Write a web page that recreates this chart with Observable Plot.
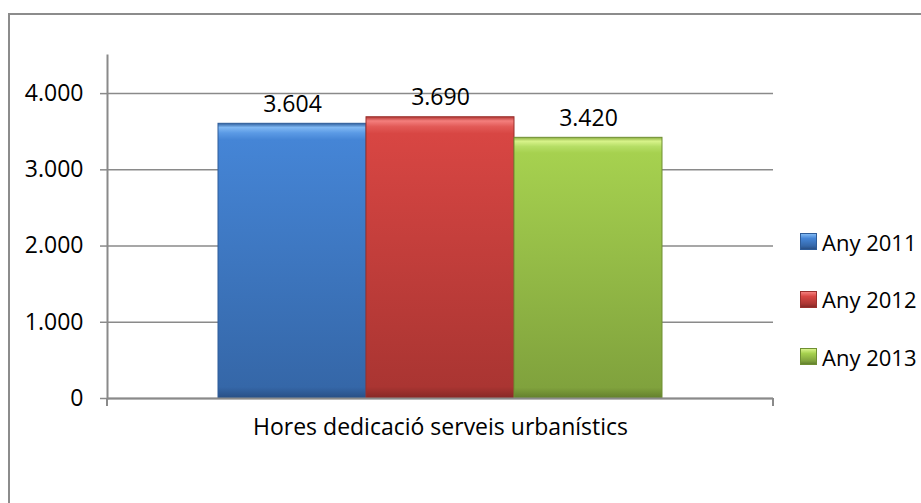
<!DOCTYPE html>
<html>
<head>
<meta charset="utf-8">
<script src="https://cdn.jsdelivr.net/npm/d3@7"></script>
<script src="https://cdn.jsdelivr.net/npm/@observablehq/plot@0.6"></script>
<style>
  html, body { margin: 0; padding: 0; background: #fff; }
  #wrap { position: relative; width: 921px; height: 503px; overflow: hidden; font-family: "Open Sans", sans-serif; }
  #border { position: absolute; left: 8px; top: 13px; width: 1000px; height: 1000px; border: 2px solid #8c8c8c; box-sizing: border-box; }
  #chart { position: absolute; left: 0; top: 0; }
  #legend { position: absolute; left: 800px; top: 233px; }
  .item { position: absolute; left: 0; display: flex; align-items: center; height: 17px; white-space: nowrap; font-size: 22px; color: #000; }
  .sw { width: 17px; height: 17px; margin-right: 5px; box-sizing: border-box; flex: none; }
</style>
</head>
<body>
<div id="wrap">
  <div id="border"></div>
  <div id="chart"></div>
  <div id="legend"></div>
</div>
<script>
const category = "Hores dedicació serveis urbanístics";
const series = ["Any 2011", "Any 2012", "Any 2013"];
const values = [3604, 3690, 3420];
const yTicks = [0, 1000, 2000, 3000, 4000];

const gradIds = ["gBlue", "gRed", "gGreen"];
const gradStops = [
  [["0%", "#2f5f9e"], ["1.5%", "#80b8f3"], ["3.5%", "#5b9ae5"], ["6%", "#4585d6"], ["96%", "#3567a8"], ["98.5%", "#2d5892"], ["100%", "#284f85"]],
  [["0%", "#b13633"], ["1.5%", "#f47f7d"], ["3.5%", "#e25a57"], ["6%", "#d84643"], ["96%", "#aa3532"], ["98.5%", "#942d2a"], ["100%", "#862826"]],
  [["0%", "#8aad40"], ["1.5%", "#d8f38a"], ["3.5%", "#b6de66"], ["6%", "#a6d14f"], ["96%", "#80a23d"], ["98.5%", "#6e8c33"], ["100%", "#62802d"]]
];
const edgeColors = ["#2e5c99", "#9a302d", "#6f8f33"];

const loc = d3.formatLocale({decimal: ",", thousands: ".", grouping: [3], currency: ["", "€"]});
const fmt = loc.format(",");

const data = series.map((s, i) => ({category, series: s, value: values[i]}));

const ML = 107, MR = 148, MT = 55, MB = 105, W = 921, H = 503;
const FS = 23;

const plot = Plot.plot({
  width: W,
  height: H,
  marginLeft: ML,
  marginRight: MR,
  marginTop: MT,
  marginBottom: MB,
  style: {fontFamily: "Open Sans, sans-serif", fontSize: FS + "px", color: "#000", background: "transparent", overflow: "visible"},
  fx: {domain: [category], paddingInner: 0, paddingOuter: 0, label: null, axis: null},
  x: {domain: series, paddingInner: 0, paddingOuter: 0.75, axis: null},
  y: {domain: [0, 4500], label: null, axis: null},
  color: {domain: series, range: gradIds.map(id => `url(#${id})`)},
  marks: [
    Plot.gridY(yTicks, {stroke: "#8a8a8a", strokeOpacity: 1, strokeWidth: 1.5}),
    Plot.axisY(yTicks, {anchor: "left", tickSize: 7, tickPadding: 17, tickFormat: fmt, stroke: "#8a8a8a", strokeWidth: 1.5, fontSize: FS, label: null}),
    Plot.axisFx({anchor: "bottom", tickSize: 0, tickPadding: 20, fontSize: FS, label: null}),
    Plot.barY(data, {fx: "category", x: "series", y: "value", fill: "series", stroke: d => edgeColors[series.indexOf(d.series)], strokeWidth: 1}),
    Plot.ruleY([0], {stroke: "#8a8a8a", strokeWidth: 2}),
    Plot.frame({anchor: "left", stroke: "#8a8a8a", strokeWidth: 2}),
    Plot.text(data, {fx: "category", x: "series", y: "value", text: d => fmt(d.value), lineAnchor: "bottom", dy: -12, fontSize: FS, fill: "#000"})
  ]
});

const svg = d3.select(plot);
svg.selectAll("text").style("font-size", FS + "px");
const defs = svg.insert("defs", ":first-child");
gradIds.forEach((id, i) => {
  const g = defs.append("linearGradient").attr("id", id).attr("x1", 0).attr("y1", 0).attr("x2", 0).attr("y2", 1);
  gradStops[i].forEach(([o, c]) => g.append("stop").attr("offset", o).attr("stop-color", c));
});
// small downward ticks at axis ends (Excel style)
const y0 = H - MB;
svg.append("g").attr("stroke", "#8a8a8a").attr("stroke-width", 2)
  .selectAll("line").data([ML, W - MR]).join("line")
  .attr("x1", d => d).attr("x2", d => d).attr("y1", y0).attr("y2", y0 + 8);

document.getElementById("chart").appendChild(plot);

// legend
const lg = document.getElementById("legend");
series.forEach((s, i) => {
  const item = document.createElement("div");
  item.className = "item";
  item.style.top = (i * 57.5) + "px";
  const sw = document.createElement("div");
  sw.className = "sw";
  const st = gradStops[i];
  sw.style.background = `linear-gradient(to bottom, ${st[1][1]} 0%, ${st[3][1]} 30%, ${st[4][1]} 80%, ${st[6][1]} 100%)`;
  sw.style.border = `1px solid ${edgeColors[i]}`;
  item.appendChild(sw);
  const t = document.createElement("span");
  t.textContent = s;
  item.appendChild(t);
  lg.appendChild(item);
});
</script>
</body>
</html>
